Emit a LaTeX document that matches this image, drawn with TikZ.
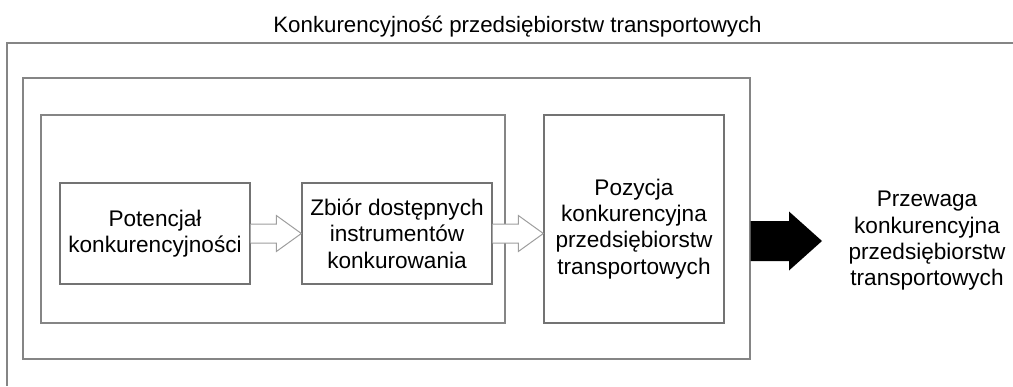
\documentclass[tikz,border=0pt]{standalone}
\usepackage{fontspec}
\setmainfont{Liberation Sans}
\usetikzlibrary{calc}

% open block arrow from the east side of #1 to the point #2
\newcommand{\blockarrow}[2]{%
  \fill[white] ($(#1.east)+(0,-9.5)$) -- ($(#2)+(-25,-9.5)$) -- ($(#2)+(-25,-18)$) -- (#2)
    -- ($(#2)+(-25,18)$) -- ($(#2)+(-25,9.5)$) -- ($(#1.east)+(0,9.5)$) -- cycle;
  \draw[hollow] ($(#1.east)+(0,-9.5)$) -- ($(#2)+(-25,-9.5)$) -- ($(#2)+(-25,-18)$) -- (#2)
    -- ($(#2)+(-25,18)$) -- ($(#2)+(-25,9.5)$) -- ($(#1.east)+(0,9.5)$);}

\begin{document}
\begin{tikzpicture}[x=1pt,y=-1pt,
  txt/.style={font=\fontsize{22.6}{26.3}\selectfont, align=center, inner sep=0pt},
  frame/.style={draw=black!48, line width=1.3pt, inner sep=0pt},
  box/.style={draw=black!55, line width=1.3pt, inner sep=0pt, txt},
  hollow/.style={draw=black!38, line width=1pt, line join=miter}]
\useasboundingbox (0,0) rectangle (1013,386);

% title and the enclosing frame (open to the right and below)
\node[txt, font=\fontsize{22.3}{26}\selectfont, anchor=base] (title) at (517.5,32) {Konkurencyjność przedsiębiorstw transportowych};
\draw[frame] (1013,43) -- (7,43) -- (7,386);

% nested frames
\node[frame, minimum width=727, minimum height=281] (mid) at (386.5,218.5) {};
\node[frame, minimum width=464, minimum height=208] (grp) at (273,219) {};

% boxes
\node[box, minimum width=190, minimum height=101] (pot) at (155,233.5) {Potencjał\\konkurencyjności};
\node[box, minimum width=190, minimum height=101] (zb) at (397,233.5) {Zbiór dostępnych\\instrumentów\\konkurowania};
\node[box, minimum width=180, minimum height=208] (pozbox) at (634,219) {};
\node[txt] (poz) at (634,229) {Pozycja\\konkurencyjna\\przedsiębiorstw\\transportowych};
\node[txt] (prz) at (927,241) {Przewaga\\konkurencyjna\\przedsiębiorstw\\transportowych};

% open arrows between the boxes
\coordinate (ztip) at (pozbox.west |- zb.east);
\blockarrow{pot}{zb.west}
\blockarrow{zb}{ztip}

% solid arrow leaving the frame
\coordinate (btip) at (822,241);
\coordinate (bstart) at (mid.east |- btip);
\fill[black] ($(bstart)+(0,-20)$) -- ($(btip)+(-33,-20)$) -- ($(btip)+(-33,-29.5)$) -- (btip)
  -- ($(btip)+(-33,29.5)$) -- ($(btip)+(-33,20)$) -- ($(bstart)+(0,20)$) -- cycle;
\end{tikzpicture}
\end{document}
